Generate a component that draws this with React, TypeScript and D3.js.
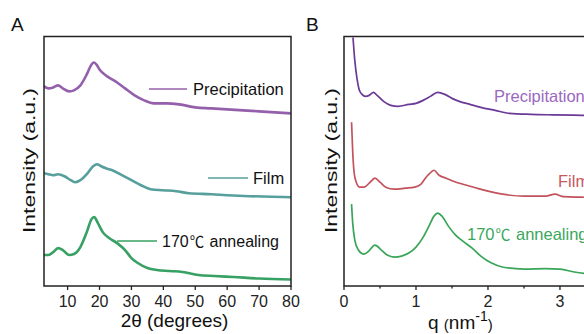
import React from "react";
import * as d3 from "d3";

// Panel A: XRD, 2θ (degrees) vs intensity (a.u., curves stacked as in the figure)
const xrdTheta = [2.6, 4, 5.5, 7, 8.5, 10.5, 12, 14, 16, 17.5, 18.2, 19, 20, 22, 25, 28, 31, 34, 37, 41, 45, 50, 55, 60, 65, 70, 75, 80];
const xrdPrecip = [200, 198, 199, 201, 198, 195, 196, 201, 212, 222, 224, 222, 217, 211, 205, 198, 191, 186, 183, 183, 182, 179, 178, 177, 176, 175, 174, 173];

const filmTheta = [2.6, 4, 5.5, 7, 9, 11, 12.5, 14, 16, 18, 19.2, 20.5, 22, 24, 27, 30, 33, 36, 40, 44, 48, 55, 60, 67, 74, 80];
const xrdFilm = [113, 112, 111, 112, 110, 106, 104, 106, 112, 120, 122, 120, 118, 116, 111, 106, 101, 97, 96, 95, 93, 92, 91, 90, 89.5, 89];

const annealTheta = [2.6, 4, 5.5, 7, 8.5, 10.5, 12, 14, 16, 17.5, 18.3, 19.5, 21, 23, 25.5, 28, 30, 32, 35, 38, 42, 46, 51, 56, 62, 70, 80];
const xrdAnneal = [31, 31, 34, 38, 36, 31, 32, 39, 54, 67, 69, 63, 54, 48, 43, 36, 28, 23, 18, 16, 15, 14, 11, 10, 9, 7.5, 6.5];

const thetaTicks = [10, 20, 30, 40, 50, 60, 70, 80];

// Panel B: SAXS, q (nm^-1) vs intensity (a.u., stacked)
const qPrecip = [0.125, 0.15, 0.18, 0.21, 0.25, 0.3, 0.35, 0.41, 0.46, 0.55, 0.65, 0.75, 0.9, 1.0, 1.1, 1.2, 1.3, 1.4, 1.5, 1.6, 1.75, 1.9, 2.1, 2.3, 2.6, 2.9, 3.3, 3.6];
const saxsPrecip = [249, 226, 208, 197, 192, 190, 191, 194, 191, 185, 181, 180, 182, 183, 186, 190, 194, 192, 188, 185, 182, 179, 176, 173, 172, 171.5, 171, 170.5];

const qFilm = [0.105, 0.12, 0.14, 0.17, 0.22, 0.28, 0.35, 0.43, 0.5, 0.58, 0.7, 0.85, 0.98, 1.07, 1.13, 1.18, 1.25, 1.32, 1.42, 1.52, 1.65, 1.8, 2.0, 2.2, 2.5, 2.8, 2.93, 3.05, 3.3, 3.6];
const saxsFilm = [164, 136, 114, 104, 99, 99, 103, 108, 104, 99, 97, 98, 99, 102, 108, 112, 116, 111, 108, 105, 102, 99, 95, 92, 90, 90, 92, 89.5, 89, 88.5];

const qAnneal = [0.105, 0.12, 0.15, 0.2, 0.27, 0.33, 0.43, 0.52, 0.6, 0.7, 0.8, 0.9, 1.0, 1.1, 1.18, 1.25, 1.3, 1.36, 1.45, 1.55, 1.65, 1.78, 1.9, 2.05, 2.2, 2.5, 2.8, 3.0, 3.2, 3.4, 3.6];
const saxsAnneal = [82, 64, 46, 36, 32, 34, 41, 36, 31, 29, 30, 33, 39, 49, 60, 70, 73, 70, 60, 51, 45, 38, 30, 23, 19, 17, 17.5, 17, 14, 12, 11];

const qMajor = [0, 1, 2, 3];
const qMinor = [0.5, 1.5, 2.5];

const FONT = "'Liberation Sans', Arial, sans-serif";
const CJK = "'Noto Sans CJK SC', 'DejaVu Sans', sans-serif";
const AXIS = "#222";

const top = 36.5;
const bottom = 286;

const xA = d3.scaleLinear().domain([2.6, 80]).range([44, 291]);
const xB = d3.scaleLinear().domain([0, 3.556]).range([344, 600]);
const y = d3.scaleLinear().domain([0, 250]).range([bottom, top]);

function path(xs: number[], ys: number[], xScale: d3.ScaleLinear<number, number>) {
    const line = d3.line<number>()
        .x((_, i) => xScale(xs[i]))
        .y(d => y(d))
        .curve(d3.curveMonotoneX);
    return line(ys) || "";
}

// "170℃ annealing" with the degree-celsius sign taken from a font that has it
function Anneal() {
    return (
        <>170<tspan fontFamily={CJK} fontSize="0.9em" dx={1}>℃</tspan><tspan dx={1}> annealing</tspan></>
    );
}

export default function App() {
    return (
        <svg width={584} height={334} style={{ position: "fixed", left: 0, top: 0, background: "#fff" }} fontFamily={FONT}>
            <defs>
                <clipPath id="clipA"><rect x={44} y={top} width={247} height={bottom - top} /></clipPath>
                <clipPath id="clipB"><rect x={344} y={top} width={256} height={bottom - top} /></clipPath>
            </defs>

            {/* ---------- Panel A ---------- */}
            <text x={11} y={31} fontSize={19} fill="#111">A</text>
            <g clipPath="url(#clipA)" fill="none" strokeLinejoin="round" strokeLinecap="round">
                <path d={path(xrdTheta, xrdPrecip, xA)} stroke="#9560ab" strokeWidth={2.6} />
                <path d={path(filmTheta, xrdFilm, xA)} stroke="#569f9c" strokeWidth={2.6} />
                <path d={path(annealTheta, xrdAnneal, xA)} stroke="#37a063" strokeWidth={2.6} />
            </g>
            <rect x={44} y={top} width={247} height={bottom - top} fill="none" stroke={AXIS} strokeWidth={1.5} />
            {thetaTicks.map(t => (
                <g key={t}>
                    <line x1={xA(t)} x2={xA(t)} y1={bottom} y2={bottom + 4} stroke={AXIS} strokeWidth={1.3} />
                    <text x={xA(t)} y={307} fontSize={16} textAnchor="middle" fill="#222">{t}</text>
                </g>
            ))}
            <text x={174.5} y={327} fontSize={19} textAnchor="middle" fill="#111">2θ (degrees)</text>
            <text transform="translate(35,160.5) rotate(-90)" fontSize={17} textAnchor="middle" fill="#111"
                textLength={145} lengthAdjust="spacingAndGlyphs">Intensity (a.u.)</text>

            {/* legend A */}
            <line x1={149} x2={187} y1={89} y2={89} stroke="#9560ab" strokeWidth={1.5} />
            <text x={193} y={95} fontSize={16.5} fill="#111">Precipitation</text>
            <line x1={208} x2={248} y1={178} y2={178} stroke="#569f9c" strokeWidth={1.5} />
            <text x={253} y={184} fontSize={16.5} fill="#111">Film</text>
            <line x1={117} x2={157} y1={241} y2={241} stroke="#37a063" strokeWidth={1.5} />
            <text x={162} y={247} fontSize={16} fill="#111"><Anneal /></text>

            {/* ---------- Panel B ---------- */}
            <text x={306} y={31} fontSize={19} fill="#111">B</text>
            <g clipPath="url(#clipB)" fill="none" strokeLinejoin="round">
                <path d={path(qPrecip, saxsPrecip, xB)} stroke="#6a3a96" strokeWidth={1.7} />
                <path d={path(qFilm, saxsFilm, xB)} stroke="#c2525c" strokeWidth={1.7} />
                <path d={path(qAnneal, saxsAnneal, xB)} stroke="#38a558" strokeWidth={1.7} />
            </g>
            <rect x={344} y={top} width={256} height={bottom - top} fill="none" stroke={AXIS} strokeWidth={1.5} />
            {qMajor.map(t => (
                <g key={t}>
                    <line x1={xB(t)} x2={xB(t)} y1={bottom} y2={bottom + 4} stroke={AXIS} strokeWidth={1.3} />
                    <text x={xB(t)} y={307} fontSize={16} textAnchor="middle" fill="#222">{t}</text>
                </g>
            ))}
            {qMinor.map(t => (
                <line key={t} x1={xB(t)} x2={xB(t)} y1={bottom} y2={bottom + 2.5} stroke={AXIS} strokeWidth={1.3} />
            ))}
            <text x={428} y={329} fontSize={19} fill="#111">
                q <tspan fontSize={15} dy={1}>(</tspan><tspan dy={-1}>nm</tspan><tspan fontSize={14} dy={-8}>-1</tspan><tspan fontSize={15} dy={9}>)</tspan>
            </text>
            <text transform="translate(336.5,160.5) rotate(-90)" fontSize={17} textAnchor="middle" fill="#111"
                textLength={145} lengthAdjust="spacingAndGlyphs">Intensity (a.u.)</text>

            <text x={494} y={102} fontSize={16.5} fill="#9a68bf">Precipitation</text>
            <text x={558} y={187} fontSize={16.5} fill="#c65862">Film</text>
            <text x={467} y={240} fontSize={16.5} fill="#3aa75c"><Anneal /></text>
        </svg>
    );
}
